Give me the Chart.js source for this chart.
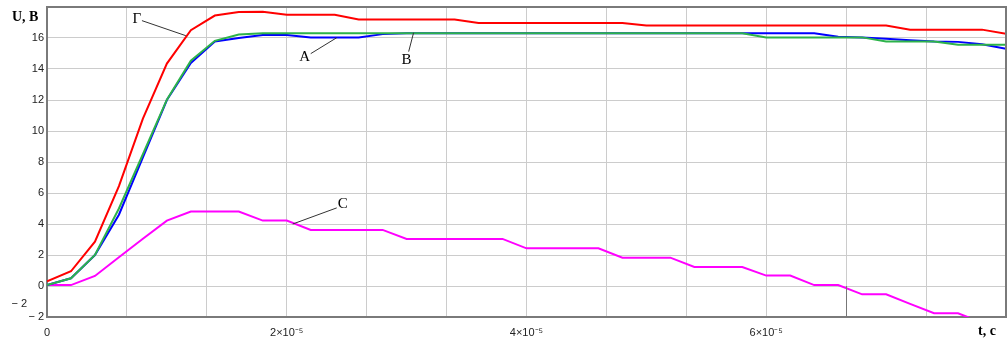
<!DOCTYPE html>
<html>
<head>
<meta charset="utf-8">
<script src="https://cdn.jsdelivr.net/npm/chart.js@4/dist/chart.umd.min.js"></script>
<style>
  html, body { margin: 0; padding: 0; background: #fff; }
  canvas { display: block; }
</style>
</head>
<body>
<canvas id="voltChart" width="1007" height="343"></canvas>
<script>
// time points, s
var times = [0, 0.2e-5, 0.4e-5, 0.6e-5, 0.8e-5, 1.0e-5, 1.2e-5, 1.4e-5, 1.6e-5, 1.8e-5,
    2.0e-5, 2.2e-5, 2.4e-5, 2.6e-5, 2.8e-5, 3.0e-5, 3.2e-5, 3.4e-5, 3.6e-5, 3.8e-5,
    4.0e-5, 4.2e-5, 4.4e-5, 4.6e-5, 4.8e-5, 5.0e-5, 5.2e-5, 5.4e-5, 5.6e-5, 5.8e-5,
    6.0e-5, 6.2e-5, 6.4e-5, 6.6e-5, 6.8e-5, 7.0e-5, 7.2e-5, 7.4e-5, 7.6e-5, 7.8e-5, 8.0e-5];

// U, B
var curveG = [0.3, 0.95, 2.86, 6.45, 10.8, 14.35, 16.5, 17.45, 17.68, 17.7,
    17.5, 17.5, 17.5, 17.2, 17.2, 17.2, 17.2, 17.2, 16.97, 16.97,
    16.97, 16.97, 16.97, 16.97, 16.97, 16.8, 16.8, 16.8, 16.8, 16.8,
    16.8, 16.8, 16.8, 16.8, 16.8, 16.8, 16.54, 16.54, 16.54, 16.54, 16.28];
var curveA = [0.06, 0.5, 2.0, 4.6, 8.3, 12.0, 14.39, 15.78, 16.0, 16.2,
    16.2, 16.04, 16.04, 16.04, 16.25, 16.3, 16.3, 16.3, 16.3, 16.3,
    16.3, 16.3, 16.3, 16.3, 16.3, 16.3, 16.3, 16.3, 16.3, 16.3,
    16.3, 16.3, 16.3, 16.08, 16.04, 15.95, 15.85, 15.78, 15.75, 15.6, 15.3];
var curveB = [0.06, 0.5, 2.0, 5.0, 8.5, 12.02, 14.53, 15.82, 16.22, 16.3,
    16.3, 16.3, 16.3, 16.3, 16.3, 16.3, 16.3, 16.3, 16.3, 16.3,
    16.3, 16.3, 16.3, 16.3, 16.3, 16.3, 16.3, 16.3, 16.3, 16.3,
    16.04, 16.04, 16.04, 16.04, 16.04, 15.78, 15.78, 15.78, 15.57, 15.57, 15.57];
var curveC = [0.06, 0.06, 0.65, 1.85, 3.05, 4.22, 4.8, 4.8, 4.8, 4.22,
    4.22, 3.62, 3.62, 3.62, 3.62, 3.04, 3.04, 3.04, 3.04, 3.04,
    2.43, 2.43, 2.43, 2.43, 1.83, 1.83, 1.83, 1.23, 1.23, 1.23,
    0.67, 0.67, 0.06, 0.06, -0.54, -0.54, -1.15, -1.76, -1.76, -2.36, -2.36];

// axis ticks
var xGrid = [0, 0.6667e-5, 1.3333e-5, 2e-5, 2.6667e-5, 3.3333e-5, 4e-5,
    4.6667e-5, 5.3333e-5, 6e-5, 6.6667e-5, 7.3333e-5, 8e-5];
var xTickLabels = ['0', '', '', '2×10⁻⁵', '', '', '4×10⁻⁵', '', '', '6×10⁻⁵', '', '', ''];
var yGrid = [-2, 0, 2, 4, 6, 8, 10, 12, 14, 16, 18];
var yTickLabels = ['− 2', '0', '2', '4', '6', '8', '10', '12', '14', '16', ''];

// curve labels: text, label pos [t, U], leader from [t, U] to [t, U]
var curveLabels = [
    { text: 'Г', at: [0.75e-5, 17.25], from: [0.792e-5, 17.12], to: [1.158e-5, 16.15] },
    { text: 'A', at: [2.15e-5, 14.76], from: [2.2e-5, 14.99], to: [2.417e-5, 16.02] },
    { text: 'B', at: [3.0e-5, 14.6], from: [3.017e-5, 15.12], to: [3.058e-5, 16.34] },
    { text: 'C', at: [2.467e-5, 5.3], from: [2.417e-5, 5.04], to: [2.05e-5, 4.0] }
];

function toPoints(vals) {
    return vals.map(function (v, i) { return { x: times[i], y: v }; });
}

var decorPlugin = {
    id: 'decor',
    afterDraw: function (chart) {
        var ctx = chart.ctx;
        var area = chart.chartArea;
        var xs = chart.scales.x, ys = chart.scales.y;
        ctx.save();

        // top and right frame
        ctx.strokeStyle = '#7a7a7a';
        ctx.lineWidth = 2;
        ctx.beginPath();
        ctx.moveTo(area.left, area.top);
        ctx.lineTo(area.right, area.top);
        ctx.lineTo(area.right, area.bottom);
        ctx.stroke();

        // darker marker segment
        ctx.strokeStyle = '#777';
        ctx.lineWidth = 1;
        var mx = Math.round(xs.getPixelForValue(6.6667e-5)) + 0.5;
        ctx.beginPath();
        ctx.moveTo(mx, ys.getPixelForValue(0));
        ctx.lineTo(mx, area.bottom);
        ctx.stroke();

        // leaders and labels
        ctx.strokeStyle = '#333';
        ctx.lineWidth = 1;
        ctx.fillStyle = '#000';
        ctx.font = '15px "Liberation Serif", "Times New Roman", serif';
        ctx.textAlign = 'center';
        ctx.textBaseline = 'middle';
        curveLabels.forEach(function (l) {
            ctx.beginPath();
            ctx.moveTo(xs.getPixelForValue(l.from[0]), ys.getPixelForValue(l.from[1]));
            ctx.lineTo(xs.getPixelForValue(l.to[0]), ys.getPixelForValue(l.to[1]));
            ctx.stroke();
            ctx.fillText(l.text, xs.getPixelForValue(l.at[0]), ys.getPixelForValue(l.at[1]));
        });

        // axis titles
        ctx.font = 'bold 14px "Liberation Serif", "Times New Roman", serif';
        ctx.textAlign = 'left';
        ctx.fillText('U, B', 12, 17);
        ctx.fillText('t, c', 978, 331);

        // extra lower limit label
        ctx.font = '11px "Liberation Sans", Arial, sans-serif';
        ctx.fillStyle = '#222';
        ctx.textAlign = 'right';
        ctx.fillText('− 2', area.left - 20, ys.getPixelForValue(-2) - 13);
        ctx.restore();
    }
};

new Chart(document.getElementById('voltChart').getContext('2d'), {
    type: 'line',
    data: {
        datasets: [
            { label: 'Г', data: toPoints(curveG), borderColor: '#ff0000', order: 0 },
            { label: 'A', data: toPoints(curveA), borderColor: '#0000ff', order: 2 },
            { label: 'B', data: toPoints(curveB), borderColor: '#2db34a', order: 1 },
            { label: 'C', data: toPoints(curveC), borderColor: '#ff00ff', order: 3 }
        ]
    },
    options: {
        responsive: false,
        animation: false,
        layout: { padding: { top: 7, right: 1, left: 0, bottom: 0 } },
        elements: {
            line: { borderWidth: 2, tension: 0, fill: false },
            point: { radius: 0 }
        },
        plugins: {
            legend: { display: false },
            tooltip: { enabled: false }
        },
        scales: {
            x: {
                type: 'linear',
                min: 0,
                max: 8e-5,
                afterBuildTicks: function (scale) {
                    scale.ticks = xGrid.map(function (v) { return { value: v }; });
                },
                afterFit: function (scale) {
                    scale.height = 26;
                    scale.paddingLeft = 0;
                    scale.paddingRight = 0;
                },
                ticks: {
                    autoSkip: false,
                    maxRotation: 0,
                    padding: 9,
                    color: '#222',
                    font: { family: '"Liberation Sans", Arial, sans-serif', size: 11 },
                    callback: function (v, i) { return xTickLabels[i]; }
                },
                grid: { color: '#cccccc', drawTicks: false },
                border: { color: '#7a7a7a', width: 2 }
            },
            y: {
                min: -2,
                max: 18,
                afterBuildTicks: function (scale) {
                    scale.ticks = yGrid.map(function (v) { return { value: v }; });
                },
                afterFit: function (scale) {
                    scale.width = 47;
                    scale.paddingTop = 0;
                    scale.paddingBottom = 0;
                },
                ticks: {
                    padding: 3,
                    color: '#222',
                    font: { family: '"Liberation Sans", Arial, sans-serif', size: 11 },
                    callback: function (v, i) { return yTickLabels[i]; }
                },
                grid: { color: '#cccccc', drawTicks: false },
                border: { color: '#7a7a7a', width: 2 }
            }
        }
    },
    plugins: [decorPlugin]
});
</script>
</body>
</html>
